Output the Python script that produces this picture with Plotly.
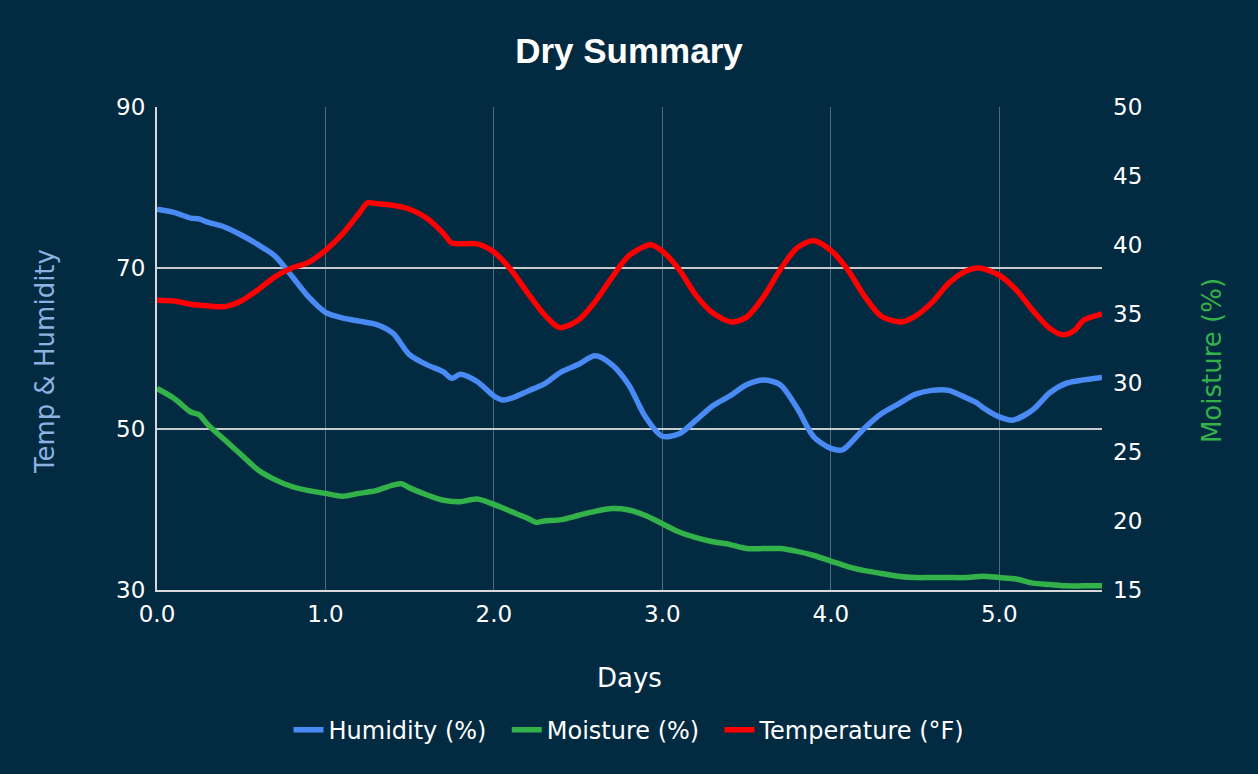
import plotly.graph_objects as go

# ---- data ----
hum_days = [0, 0.1, 0.2, 0.25, 0.3, 0.4, 0.5, 0.6, 0.7, 0.8, 0.9, 1.0, 1.1, 1.2, 1.3, 1.4,
            1.5, 1.6, 1.7, 1.75, 1.8, 1.9, 2.0, 2.05, 2.1, 2.2, 2.3, 2.4, 2.5, 2.6, 2.7, 2.8,
            2.9, 3.0, 3.1, 3.2, 3.3, 3.4, 3.5, 3.6, 3.7, 3.8, 3.9, 4.0, 4.07, 4.1, 4.2, 4.3,
            4.4, 4.5, 4.6, 4.7, 4.8, 4.87, 4.9, 5.0, 5.08, 5.2, 5.3, 5.4, 5.5, 5.61]
humidity = [77.3, 76.9, 76.2, 76.1, 75.7, 75.1, 74.1, 72.9, 71.5, 69.0, 66.4, 64.5, 63.8, 63.4, 63.0, 61.9,
            59.2, 58.0, 57.1, 56.3, 56.8, 55.9, 54.1, 53.6, 53.8, 54.7, 55.6, 57.1, 58.0, 59.1, 58.0, 55.5,
            51.5, 49.1, 49.4, 51.1, 52.9, 54.1, 55.5, 56.1, 55.5, 52.6, 49.0, 47.6, 47.4, 47.9, 50.1, 51.9,
            53.1, 54.3, 54.8, 54.8, 53.9, 53.2, 52.7, 51.5, 51.1, 52.4, 54.5, 55.7, 56.1, 56.4]

moist_days = [0, 0.1, 0.2, 0.25, 0.3, 0.4, 0.5, 0.6, 0.7, 0.8, 0.9, 1.0, 1.1, 1.2, 1.3, 1.4,
              1.45, 1.5, 1.6, 1.7, 1.8, 1.9, 2.0, 2.1, 2.2, 2.25, 2.3, 2.4, 2.5, 2.6, 2.7, 2.8,
              2.9, 3.0, 3.1, 3.2, 3.3, 3.4, 3.5, 3.6, 3.7, 3.8, 3.9, 4.0, 4.1, 4.2, 4.3, 4.4,
              4.5, 4.6, 4.7, 4.8, 4.9, 5.0, 5.1, 5.2, 5.3, 5.4, 5.5, 5.61]
moisture = [29.6, 28.9, 27.9, 27.7, 27.0, 25.9, 24.8, 23.7, 23.0, 22.5, 22.2, 22.0, 21.8, 22.0, 22.2, 22.6,
            22.7, 22.4, 21.9, 21.5, 21.4, 21.6, 21.2, 20.7, 20.2, 19.9, 20.0, 20.1, 20.4, 20.7, 20.9, 20.8,
            20.4, 19.8, 19.2, 18.8, 18.5, 18.3, 18.0, 18.0, 18.0, 17.8, 17.5, 17.1, 16.7, 16.4, 16.2, 16.0,
            15.9, 15.9, 15.9, 15.9, 16.0, 15.9, 15.8, 15.5, 15.4, 15.3, 15.3, 15.3]

temp_days = [0, 0.1, 0.2, 0.3, 0.4, 0.5, 0.6, 0.7, 0.8, 0.9, 1.0, 1.1, 1.2, 1.25, 1.3, 1.4,
             1.5, 1.6, 1.7, 1.75, 1.8, 1.9, 2.0, 2.1, 2.2, 2.3, 2.39, 2.5, 2.6, 2.7, 2.8, 2.93,
             3.0, 3.1, 3.2, 3.3, 3.41, 3.5, 3.6, 3.7, 3.8, 3.9, 4.0, 4.1, 4.2, 4.3, 4.42, 4.5,
             4.6, 4.7, 4.8, 4.88, 5.0, 5.1, 5.2, 5.3, 5.38, 5.45, 5.5, 5.61]
temperature = [66.0, 65.9, 65.5, 65.3, 65.2, 65.9, 67.3, 68.9, 70.0, 70.7, 72.2, 74.2, 76.8, 78.1, 78.0, 77.8,
               77.3, 76.2, 74.3, 73.1, 73.0, 73.0, 72.0, 69.8, 66.9, 64.2, 62.6, 63.5, 65.8, 68.8, 71.5, 72.9,
               72.1, 69.8, 66.6, 64.4, 63.3, 63.9, 66.4, 69.8, 72.5, 73.4, 72.2, 69.8, 66.5, 64.0, 63.3, 64.0,
               65.7, 68.1, 69.6, 70.0, 69.1, 67.3, 64.7, 62.5, 61.7, 62.3, 63.5, 64.3]

left_ticks = [30, 50, 70, 90]
right_ticks = [15, 20, 25, 30, 35, 40, 45, 50]
x_ticks = [0, 1, 2, 3, 4, 5]

BG = "#022a40"
FONT = "DejaVu Sans"
PAD = "\u00a0\u00a0"  # extra spacing between legend entries

fig = go.Figure()
fig.add_trace(go.Scatter(x=hum_days, y=humidity, name="Humidity (%)" + PAD, mode="lines",
                         line=dict(color="#4a8af4", width=5.5, shape="spline", smoothing=0.8)))
fig.add_trace(go.Scatter(x=moist_days, y=moisture, name="Moisture (%)" + PAD, mode="lines", yaxis="y2",
                         line=dict(color="#33b24a", width=5.5, shape="spline", smoothing=0.8)))
fig.add_trace(go.Scatter(x=temp_days, y=temperature, name="Temperature (°F)", mode="lines",
                         line=dict(color="#ff0000", width=5.5, shape="spline", smoothing=0.8)))

fig.update_layout(
    width=1258, height=774,
    paper_bgcolor=BG, plot_bgcolor=BG,
    margin=dict(l=157, r=156, t=107, b=184),
    font=dict(family=FONT, color="white", size=22),
    title=dict(text="<b>Dry Summary</b>", x=0.5, xanchor="center", y=0.935, yanchor="middle",
               yref="container", font=dict(family="Liberation Sans", size=35, color="white")),
    xaxis=dict(range=[0, 5.61], tickvals=x_ticks, ticktext=[f"{v:.1f}" for v in x_ticks],
               showgrid=True, gridcolor="#4f6a7c", gridwidth=1, zeroline=False,
               showline=True, linecolor="#d8d8d8", linewidth=2, ticks="", ticklabelstandoff=2,
               tickfont=dict(size=23, color="white")),
    yaxis=dict(range=[30, 90], tickvals=left_ticks, showgrid=True, gridcolor="#c8cbce", gridwidth=1.5,
               zeroline=False, showline=True, linecolor="#d8d8d8", linewidth=2, ticks="",
               ticklabelstandoff=5, tickfont=dict(size=23, color="white")),
    yaxis2=dict(range=[15, 50], tickvals=right_ticks, overlaying="y", side="right", showgrid=False,
                zeroline=False, showline=False, ticks="", ticklabelstandoff=10,
                tickfont=dict(size=23, color="white")),
    legend=dict(orientation="h", x=0.5, xanchor="center", y=-0.29, yanchor="middle",
                font=dict(size=24, color="white"), bgcolor="rgba(0,0,0,0)", itemwidth=30),
    showlegend=True,
    annotations=[
        dict(text="Days", x=0.5, y=-0.182, xref="paper", yref="paper", showarrow=False,
             xanchor="center", yanchor="middle", font=dict(size=26, color="white")),
        dict(text="Temp & Humidity", x=-0.1185, y=0.472, xref="paper", yref="paper", showarrow=False,
             textangle=-90, xanchor="center", yanchor="middle", font=dict(size=26, color="#8cb2e2")),
        dict(text="Moisture (%)", x=1.1164, y=0.476, xref="paper", yref="paper", showarrow=False,
             textangle=-90, xanchor="center", yanchor="middle", font=dict(size=26, color="#33b24a")),
    ],
)

fig.write_html("out.html", config={"displayModeBar": False},
               post_script="document.body.style.margin='0';")
